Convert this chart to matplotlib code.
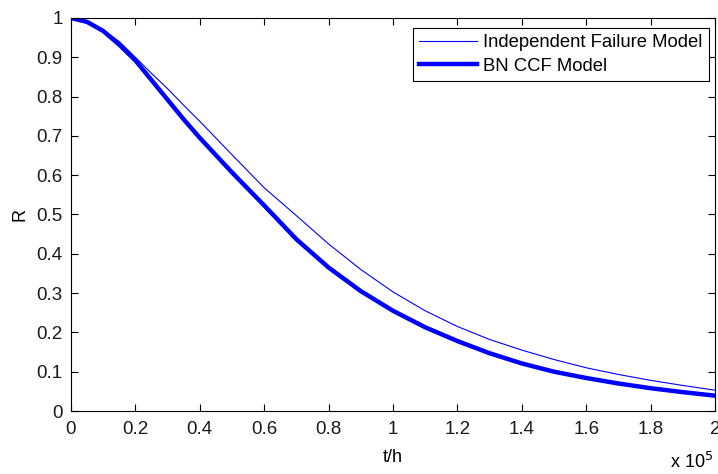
import matplotlib
matplotlib.use("Agg")
import matplotlib.pyplot as plt
from matplotlib.ticker import FuncFormatter, MultipleLocator

t_hours = [0, 5000, 10000, 15000, 20000, 25000, 30000, 35000, 40000, 50000, 60000, 70000,
           80000, 90000, 100000, 110000, 120000, 130000, 140000, 150000, 160000, 170000,
           180000, 190000, 200000]
r_independent = [1.0, 0.992, 0.97, 0.94, 0.90, 0.859, 0.82, 0.778, 0.737, 0.652, 0.568, 0.497,
                 0.425, 0.36, 0.303, 0.255, 0.215, 0.182, 0.155, 0.131, 0.11, 0.093,
                 0.078, 0.065, 0.053]
r_bn_ccf = [1.0, 0.99, 0.967, 0.932, 0.892, 0.842, 0.792, 0.742, 0.695, 0.607, 0.523, 0.437,
            0.365, 0.305, 0.255, 0.213, 0.178, 0.147, 0.121, 0.10, 0.084, 0.07,
            0.058, 0.048, 0.039]
legend_labels = ["Independent Failure Model", "BN CCF Model"]

plt.rcParams['font.family'] = ['Liberation Sans', 'DejaVu Sans']

fig = plt.figure(figsize=(7.18, 4.74), dpi=100)
ax = fig.add_axes([71/718, 1 - 411/474, (715 - 71)/718, (411 - 18)/474])

ax.plot(t_hours, r_independent, color='#0000ff', lw=0.8, label=legend_labels[0],
        solid_joinstyle='round')
ax.plot(t_hours, r_bn_ccf, color='#0000ff', lw=3.2, label=legend_labels[1],
        solid_joinstyle='round')

ax.set_xlim(0, 200000)
ax.set_ylim(0, 1)
ax.xaxis.set_major_locator(MultipleLocator(20000))
ax.yaxis.set_major_locator(MultipleLocator(0.1))

def fmt_x(v, pos):
    s = f"{v/1e5:.1f}"
    if s.endswith(".0"):
        s = s[:-2]
    return s

def fmt_y(v, pos):
    s = f"{v:.1f}"
    if s.endswith(".0"):
        s = s[:-2]
    return s

ax.xaxis.set_major_formatter(FuncFormatter(fmt_x))
ax.yaxis.set_major_formatter(FuncFormatter(fmt_y))
ax.tick_params(direction='in', length=5, width=0.8, top=True, right=True,
               labelsize=13.5, colors='black', labelcolor='#1a1a1a')
ax.tick_params(axis='x', pad=7)
ax.tick_params(axis='y', pad=6)
for sp in ax.spines.values():
    sp.set_linewidth(0.8)

ax.set_xlabel("t/h", fontsize=13, labelpad=8)
ax.set_ylabel("R", fontsize=13, labelpad=6)

fig.text(670/718, 1 - 462/474, r"x 10$^{5}$", fontsize=13, ha='left', va='center')

leg = ax.legend(loc='upper right', fontsize=13.3, frameon=True, fancybox=False,
                edgecolor='black', framealpha=1, borderpad=0.35, handlelength=3.1,
                handletextpad=0.35, labelspacing=0.35, borderaxespad=0,
                bbox_to_anchor=((709 - 71)/644, (411 - 28)/393))
leg.get_frame().set_linewidth(0.8)

fig.savefig("out.png", dpi=100)
